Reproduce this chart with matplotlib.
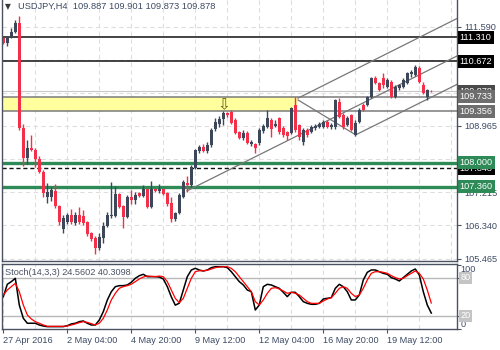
import matplotlib
matplotlib.use("Agg")
import matplotlib.pyplot as plt
from matplotlib.transforms import blended_transform_factory
import numpy as np

# USDJPY H4 candles, 27 Apr 2016 .. 20 May 2016
opens = [111.29, 111.16, 111.31, 111.45, 111.68, 108.91, 108.12, 108.38, 108.33, 108.09,
         107.75, 107.09, 107.09, 107.25, 106.85, 106.25, 106.43, 106.62, 106.41, 106.62,
         106.59, 106.43, 106.14, 106.01, 105.75, 106.01, 106.33, 106.59, 106.59, 107.17,
         106.85, 106.56, 107.09, 107.01, 107.20, 107.12, 107.30, 106.83, 107.30, 107.25,
         107.30, 107.20, 106.93, 106.51, 106.67, 107.09, 107.46, 107.41, 107.86, 108.31,
         108.41, 108.31, 108.46, 108.89, 109.02, 109.15, 109.31, 109.33, 109.12, 108.81,
         108.65, 108.78, 108.49, 108.49, 108.52, 108.83, 108.94, 109.12, 108.97, 109.18,
         108.91, 108.81, 108.78, 109.52, 108.99, 108.54, 108.86, 108.81, 108.91, 108.94,
         108.94, 109.07, 108.94, 108.94, 109.60, 109.26, 108.99, 109.26, 108.73, 109.07,
         109.52, 109.52, 109.73, 110.23, 110.10, 110.23, 110.00, 110.13, 109.73, 109.97,
         110.00, 110.10, 110.33, 110.31, 110.50, 110.05, 109.73, 109.887]
highs = [111.31, 111.34, 111.55, 111.76, 111.87, 109.02, 108.60, 108.73, 108.38, 108.17,
         107.80, 107.46, 107.36, 107.43, 106.88, 106.62, 106.67, 106.77, 106.70, 106.83,
         106.75, 106.46, 106.17, 106.06, 106.14, 106.43, 106.70, 107.49, 107.38, 107.20,
         106.88, 107.14, 107.28, 107.22, 107.22, 107.41, 107.33, 107.51, 107.33, 107.43,
         107.33, 107.22, 107.09, 106.70, 107.20, 107.54, 107.65, 107.93, 108.36, 108.46,
         108.49, 108.54, 108.91, 109.18, 109.23, 109.36, 109.33, 109.39, 109.18, 108.83,
         108.86, 108.83, 108.60, 108.52, 108.91, 109.02, 109.39, 109.18, 109.12, 109.20,
         108.97, 108.83, 109.47, 109.73, 109.02, 108.91, 108.91, 108.99, 109.02, 109.07,
         109.12, 109.12, 109.04, 109.68, 109.70, 109.31, 109.23, 109.28, 109.12, 109.44,
         109.57, 109.76, 110.26, 110.28, 110.13, 110.36, 110.23, 110.18, 110.05, 110.07,
         110.23, 110.39, 110.44, 110.58, 110.55, 110.13, 109.94, 109.901]
lows = [111.13, 111.08, 111.29, 111.42, 108.86, 107.91, 107.96, 108.31, 107.88, 107.72,
        107.09, 106.93, 106.99, 106.80, 106.35, 106.14, 106.38, 106.38, 106.35, 106.38,
        106.35, 106.06, 105.93, 105.59, 105.69, 105.88, 106.30, 106.54, 106.56, 106.80,
        106.27, 106.54, 106.91, 106.91, 107.09, 107.09, 106.80, 106.80, 107.22, 107.20,
        107.14, 106.85, 106.43, 106.46, 106.64, 107.07, 107.22, 107.36, 107.83, 108.25,
        108.28, 108.25, 108.41, 108.83, 108.94, 108.99, 109.20, 109.02, 108.75, 108.62,
        108.60, 108.49, 108.44, 108.25, 108.46, 108.78, 108.91, 108.67, 108.94, 108.75,
        108.67, 108.60, 108.75, 108.81, 108.60, 108.46, 108.67, 108.78, 108.86, 108.91,
        108.91, 108.91, 108.89, 108.89, 109.18, 108.89, 108.97, 108.83, 108.70, 109.04,
        109.36, 109.49, 109.70, 110.07, 109.89, 109.97, 109.97, 109.70, 109.70, 109.92,
        109.97, 110.07, 110.26, 110.28, 110.10, 109.81, 109.65, 109.873]
closes = [111.16, 111.30, 111.45, 111.68, 108.91, 108.12, 108.38, 108.33, 108.09, 107.75,
          107.20, 107.22, 107.28, 106.85, 106.43, 106.54, 106.62, 106.43, 106.62, 106.43,
          106.41, 106.11, 105.98, 105.75, 106.04, 106.33, 106.62, 106.62, 107.17, 106.83,
          106.56, 107.09, 107.01, 107.14, 107.12, 107.30, 106.83, 107.30, 107.25, 107.30,
          107.17, 106.91, 106.51, 106.67, 107.14, 107.49, 107.41, 107.88, 108.33, 108.41,
          108.31, 108.46, 108.86, 109.07, 109.15, 109.31, 109.26, 109.04, 108.78, 108.65,
          108.78, 108.52, 108.54, 108.38, 108.86, 108.97, 109.18, 108.89, 109.02, 108.81,
          108.73, 108.70, 109.44, 108.86, 108.67, 108.86, 108.73, 108.94, 108.97, 109.02,
          109.07, 108.94, 108.99, 109.65, 109.20, 108.94, 109.18, 108.86, 109.04, 109.39,
          109.39, 109.73, 110.23, 110.10, 109.92, 110.05, 110.18, 109.73, 110.00, 110.05,
          110.18, 110.36, 110.39, 110.52, 110.13, 109.84, 109.92, 109.878]

# Stoch(14,3,3): main (black) and signal (red)
stoch_k = [50.2, 69.7, 73.8, 79.0, 37.0, 16.4, 8.6, 8.6, 8.6, 5.9,
           4.3, 3.3, 3.3, 3.3, 3.3, 3.3, 4.8, 7.5, 8.6, 11.1,
           12.2, 8.6, 5.9, 5.9, 13.7, 26.8, 45.0, 58.0, 65.9, 67.5,
           67.5, 68.6, 72.8, 79.0, 83.1, 85.3, 81.6, 81.6, 81.6, 81.0,
           78.0, 66.0, 50.0, 37.0, 40.0, 60.7, 81.6, 92.0, 94.7, 92.0,
           90.5, 92.0, 95.7, 97.2, 97.2, 97.2, 95.7, 89.4, 81.6, 73.8,
           68.6, 60.7, 58.1, 29.4, 37.2, 65.9, 69.6, 68.6, 65.9, 63.3,
           57.1, 50.3, 57.1, 57.1, 50.3, 42.5, 39.8, 38.3, 38.3, 39.8,
           46.6, 47.7, 48.7, 63.3, 69.6, 65.9, 58.1, 45.1, 45.1, 52.9,
           76.4, 88.4, 92.1, 92.1, 89.4, 86.8, 85.3, 80.1, 78.0, 74.8,
           80.1, 85.3, 90.5, 93.6, 84.2, 58.1, 37.2, 24.56]
stoch_d = [52.9, 60.7, 66.0, 71.2, 58.0, 37.2, 21.6, 15.3, 11.1, 8.6,
           5.9, 3.8, 3.8, 3.8, 3.8, 3.8, 4.3, 5.9, 7.5, 9.6,
           11.1, 10.0, 8.0, 5.9, 8.6, 16.4, 29.4, 45.0, 55.5, 63.4,
           66.0, 67.5, 69.7, 73.8, 78.0, 81.0, 82.6, 82.1, 81.6, 82.6,
           81.6, 73.8, 60.7, 47.6, 40.8, 47.6, 63.4, 79.0, 89.4, 90.9,
           90.9, 91.5, 93.6, 95.7, 96.7, 97.2, 97.2, 94.6, 89.4, 81.6,
           73.8, 66.0, 58.1, 42.5, 37.2, 45.1, 55.5, 63.3, 64.4, 62.3,
           59.2, 55.5, 57.1, 55.5, 52.9, 47.7, 42.5, 39.8, 39.8, 39.8,
           43.5, 46.6, 48.7, 55.5, 63.3, 65.9, 63.3, 55.5, 50.3, 52.9,
           63.3, 76.4, 86.8, 89.4, 89.4, 88.4, 86.8, 83.2, 80.1, 78.0,
           79.0, 83.2, 86.8, 90.5, 86.8, 78.0, 60.7, 40.31]

date_labels = ["27 Apr 2016", "2 May 04:00", "4 May 20:00", "9 May 12:00",
               "12 May 04:00", "16 May 20:00", "19 May 12:00"]
date_bars = [0, 16, 32, 48, 64, 80, 96]
price_ticks = [105.465, 106.340, 107.215, 108.090, 108.965, 109.840, 110.715, 111.590]
# tick labels that sit fully under a level box in the reference are not shown
hidden_ticks = [108.090, 109.840, 110.715]

# drawn objects
black_levels = [111.310, 110.672]
green_levels = [108.000, 107.360]
dashed_level = 107.848
zone_low, zone_high, zone_end = 109.356, 109.733, 73.7
bid = 109.878
# trend lines: (bar0, price0, bar1, price1)
trend_lines = [(73.7, 109.70, 113.4, 111.80),
               (45.9, 107.25, 113.4, 110.81),
               (88.1, 108.73, 113.4, 110.06),
               (73.7, 109.65, 88.1, 108.73)]
arrow_bar, arrow_price = 55, 109.52

UP, DOWN = "#3c4859", "#f2304a"
TXT = "#3d4a63"
FS = 6.6
plt.rcParams["font.family"] = ["Liberation Sans", "DejaVu Sans"]

fig = plt.figure(figsize=(5, 3.5), dpi=100)
ax = fig.add_axes([0.004, 0.2543, 0.910, 0.7457])
ax2 = fig.add_axes([0.004, 0.06, 0.910, 0.1871])

x = np.arange(len(closes))
o, h, l, c = map(np.array, (opens, highs, lows, closes))
cols = np.where(c >= o, UP, DOWN)

xlim = (-0.33, 113.43)
for a in (ax, ax2):
    a.set_xlim(*xlim)
    a.set_axisbelow(True)
    a.set_xticks(np.arange(8, 113, 8))
    a.grid(True, axis="x", color="#dedede", ls=(0, (4, 3)), lw=0.8)
    for s in a.spines.values():
        s.set_color("#4a5262")
        s.set_linewidth(1.0)

ax.set_ylim(105.40, 112.29)
ax.spines["top"].set_visible(False)
ax.yaxis.tick_right()
ax.set_yticks(price_ticks)
ax.set_yticklabels(["" if t in hidden_ticks else f"{t:.3f}" for t in price_ticks])
ax.grid(True, axis="y", color="#dedede", ls=(0, (4, 3)), lw=0.8)
ax.tick_params(axis="y", length=3, pad=2, labelsize=FS, colors="#4a5262", labelcolor=TXT)
ax.tick_params(axis="x", length=0, labelbottom=False)

# zone + levels
ax.fill_between([xlim[0], zone_end], zone_low, zone_high, color="#ffff9e", lw=0, zorder=1)
ax.axhline(bid, color="#c8c8c8", lw=0.8, zorder=1.2)
for lv in (zone_low, zone_high):
    ax.axhline(lv, color="#7a7a7a", lw=1.1, zorder=1.8)
for lv in black_levels:
    ax.axhline(lv, color="#111111", lw=1.1, zorder=1.8)
for lv in green_levels:
    ax.axhline(lv, color="#2e8b57", lw=2.4, zorder=1.8)
ax.axhline(dashed_level, color="#111111", lw=1.0, ls=(0, (3, 2)), zorder=1.8)
for b0, p0, b1, p1 in trend_lines:
    ax.plot([b0, b1], [p0, p1], color="#777777", lw=0.9, zorder=1.9)

# candles
ax.vlines(x, l, h, colors=cols, lw=1.0, zorder=2)
ax.bar(x, np.maximum(np.abs(c - o), 0.014), bottom=np.minimum(o, c), width=0.76,
       color=cols, lw=0, zorder=2.1)
ax.text(arrow_bar, arrow_price, "\u21e9", ha="center", va="center", fontsize=11,
        color="#5c5c10", family="DejaVu Sans", zorder=3)

ax.text(0.006, 0.975, "\u25bc", transform=ax.transAxes, fontsize=5.5, color="#3a3a3a",
        va="center", ha="left", family="DejaVu Sans")
ax.text(0.035, 0.975, "USDJPY,H4  109.887 109.901 109.873 109.878", transform=ax.transAxes,
        fontsize=6.7, color=TXT, va="center", ha="left")

# price boxes on the right axis
tr = blended_transform_factory(ax.transAxes, ax.transData)
boxes = [(bid, "#4a4a4a"), (zone_high, "#6e6e6e"), (zone_low, "#6e6e6e"),
         (black_levels[0], "#000000"), (black_levels[1], "#000000"),
         (dashed_level, "#000000"), (green_levels[0], "#2e8b57"), (green_levels[1], "#2e8b57")]
for lv, bg in boxes:
    ax.text(1.006, lv, f"{lv:.3f}", transform=tr, ha="left", va="center", fontsize=FS,
            color="white", clip_on=False, zorder=5,
            bbox=dict(boxstyle="square,pad=0.22", fc=bg, ec="none"))

# stochastic panel
ax2.set_ylim(-0.4, 102.2)
ax2.plot(x, stoch_k, color="#000000", lw=1.1)
ax2.plot(x, stoch_d, color="#ff0000", lw=0.9)
for lv in (20, 80):
    ax2.axhline(lv, color="#b8b8b8", lw=1.0, zorder=1)
ax2.set_xticks(date_bars)
ax2.set_xticks(np.arange(8, 113, 16), minor=True)
ax2.set_xticklabels(date_labels, ha="left")
ax2.grid(True, axis="x", which="both", color="#dedede", ls=(0, (4, 3)), lw=0.8)
ax2.tick_params(axis="x", which="major", length=3, pad=2, labelsize=FS,
                colors="#4a5262", labelcolor=TXT)
ax2.tick_params(axis="x", which="minor", length=0)
ax2.yaxis.tick_right()
ax2.set_yticks([0, 20, 80, 100])
ax2.set_yticklabels([])
ax2.tick_params(axis="y", length=3, colors="#4a5262")
tr2 = blended_transform_factory(ax2.transAxes, ax2.transData)
ax2.text(1.008, 100, "100", transform=tr2, ha="left", va="top", fontsize=FS, color=TXT,
         clip_on=False)
ax2.text(1.008, 0, "0", transform=tr2, ha="left", va="bottom", fontsize=FS, color=TXT,
         clip_on=False)
for lv in (80, 20):
    ax2.text(1.008, lv, str(lv), transform=tr2, ha="left", va="center", fontsize=FS,
             color="white", clip_on=False, zorder=5,
             bbox=dict(boxstyle="square,pad=0.15", fc="#c4c4c4", ec="none"))
ax2.text(0.006, 0.86, "Stoch(14,3,3) 24.5602 40.3098", transform=ax2.transAxes,
         fontsize=FS, color="#4a5262", va="center", ha="left")

fig.savefig("out.png", dpi=100, facecolor="white")
